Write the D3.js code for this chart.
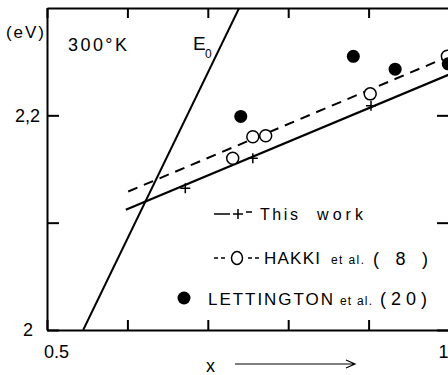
<!DOCTYPE html>
<html>
<head>
<meta charset="utf-8">
<script src="https://cdn.jsdelivr.net/npm/d3@7"></script>
<style>
  body { margin: 0; background: #fff; }
  svg { display: block; font-family: "Liberation Sans", Arial, sans-serif; }
  .axis path, .axis line { stroke: #000; stroke-width: 2; }
  .axis text { font-size: 18px; fill: #000; }
</style>
</head>
<body>
<div id="chart"></div>
<script>
// axis ticks
const xTicks = [0.5, 0.6, 0.7, 0.8, 0.9, 1.0];
const yTicks = [2.0, 2.1, 2.2];
const xLabels = { 0.5: "0.5", 1: "1" };
const yLabels = { 2: "2", 2.2: "2,2" };

// E0 line (x, eV)
const e0Line = [[0.545, 2.0], [0.739, 2.3]];

// This work: fit line + measured points
const thisWorkLine = [[0.598, 2.112], [1.0, 2.238]];
const thisWorkX = [0.672, 0.756, 0.903];
const thisWorkY = [2.132, 2.160, 2.209];

// HAKKI et al. (8)
const hakkiLine = [[0.601, 2.129], [1.0, 2.255]];
const hakkiX = [0.731, 0.756, 0.772, 0.902, 0.998];
const hakkiY = [2.160, 2.180, 2.181, 2.220, 2.255];

// LETTINGTON et al. (20)
const lettX = [0.741, 0.881, 0.933, 0.999];
const lettY = [2.199, 2.255, 2.243, 2.248];

const W = 448, H = 375;

const svg = d3.select("#chart").append("svg")
  .attr("width", W)
  .attr("height", H);

const x = d3.scaleLinear().domain([0.5, 1.0]).range([47, 449]);
const y = d3.scaleLinear().domain([2.0, 2.3]).range([330, 8]);

svg.append("defs").append("clipPath").attr("id", "plot")
  .append("rect")
  .attr("x", x(0.5)).attr("y", y(2.3))
  .attr("width", x(1.0) - x(0.5)).attr("height", y(2.0) - y(2.3));

// axes (ticks point inward)
svg.append("g")
  .attr("class", "axis")
  .attr("transform", `translate(0,${y(2.0)})`)
  .call(d3.axisBottom(x).tickValues(xTicks).tickSizeInner(-10).tickSizeOuter(0)
    .tickPadding(15).tickFormat(d => xLabels[d] || ""))
  .call(g => g.selectAll("text").filter(d => d === 0.5).attr("dx", 9))
  .call(g => g.selectAll("text").filter(d => d === 1).attr("text-anchor", "end").attr("dx", -1));

svg.append("g")
  .attr("class", "axis")
  .attr("transform", `translate(0,${y(2.3)})`)
  .call(d3.axisTop(x).tickValues(xTicks).tickSizeInner(-10).tickSizeOuter(0).tickFormat(""));

svg.append("g")
  .attr("class", "axis")
  .attr("transform", `translate(${x(0.5)},0)`)
  .call(d3.axisLeft(y).tickValues(yTicks).tickSizeInner(-12).tickSizeOuter(0)
    .tickPadding(7).tickFormat(d => yLabels[d] || ""))
  .call(g => g.selectAll("text").filter(d => d === 2).attr("dx", -7));

svg.append("g")
  .attr("class", "axis")
  .attr("transform", `translate(${x(1.0)},0)`)
  .call(d3.axisRight(y).tickValues(yTicks).tickSizeInner(-12).tickSizeOuter(0).tickFormat(""));

const line = d3.line().x(d => x(d[0])).y(d => y(d[1]));
const plot = svg.append("g").attr("clip-path", "url(#plot)");

plot.append("path").datum(e0Line)
  .attr("d", line).attr("fill", "none").attr("stroke", "#000").attr("stroke-width", 2);

plot.append("path").datum(thisWorkLine)
  .attr("d", line).attr("fill", "none").attr("stroke", "#000").attr("stroke-width", 2.2);

plot.append("path").datum(hakkiLine)
  .attr("d", line).attr("fill", "none").attr("stroke", "#000").attr("stroke-width", 2)
  .attr("stroke-dasharray", "10,7");

// + markers
plot.selectAll(".plus").data(thisWorkX).join("path")
  .attr("class", "plus")
  .attr("d", (d, i) => {
    const cx = x(d), cy = y(thisWorkY[i]);
    return `M${cx - 5},${cy}H${cx + 5}M${cx},${cy - 5}V${cy + 5}`;
  })
  .attr("stroke", "#000").attr("stroke-width", 1.5);

// open circles
plot.selectAll(".hakki").data(hakkiX).join("circle")
  .attr("class", "hakki")
  .attr("cx", d => x(d))
  .attr("cy", (d, i) => y(hakkiY[i]))
  .attr("r", 6)
  .attr("fill", "#fff").attr("stroke", "#000").attr("stroke-width", 1.5);

// filled circles
plot.selectAll(".lett").data(lettX).join("circle")
  .attr("class", "lett")
  .attr("cx", d => x(d))
  .attr("cy", (d, i) => y(lettY[i]))
  .attr("r", 6.5)
  .attr("fill", "#000");

// labels
function label(txt, px, py, size, len) {
  const t = svg.append("text").attr("x", px).attr("y", py)
    .attr("font-size", size).attr("fill", "#000").text(txt);
  if (len) t.attr("textLength", len).attr("lengthAdjust", "spacing");
  return t;
}

label("(eV)", 6, 38, 17, 38);
label("300°K", 68, 51, 18, 59);
label("E", 193, 50, 19);
label("0", 205, 58, 12);
label("x", 206, 372, 18);

// x arrow
svg.append("path")
  .attr("d", "M235,364H355M346,360L355,364L346,368")
  .attr("fill", "none").attr("stroke", "#000").attr("stroke-width", 1.2);

// legend
const lg = svg.append("g").attr("stroke", "#000").attr("fill", "none");
lg.append("path").attr("d", "M214,214H230M233,214H243M238,209V219M246,212H252").attr("stroke-width", 1.5);
label("This", 260, 220, 16, 38);
label("work", 317, 220, 16, 46);

lg.append("path").attr("d", "M214,258H218M221,258H225M248,258H252M255,258H259").attr("stroke-width", 1.5);
lg.append("ellipse").attr("cx", 237).attr("cy", 258).attr("rx", 5.5).attr("ry", 6.5).attr("stroke-width", 1.5);
label("HAKKI", 264, 264, 17, 56);
label("et al.", 331, 264, 12, 33);
label("( 8 )", 373, 265, 18, 55);

svg.append("circle").attr("cx", 184).attr("cy", 298).attr("r", 6.5).attr("fill", "#000");
label("LETTINGTON", 208, 305, 17, 125);
label("et al.", 340, 305, 12, 32);
label("(20)", 380, 305, 18, 47);
</script>
</body>
</html>
